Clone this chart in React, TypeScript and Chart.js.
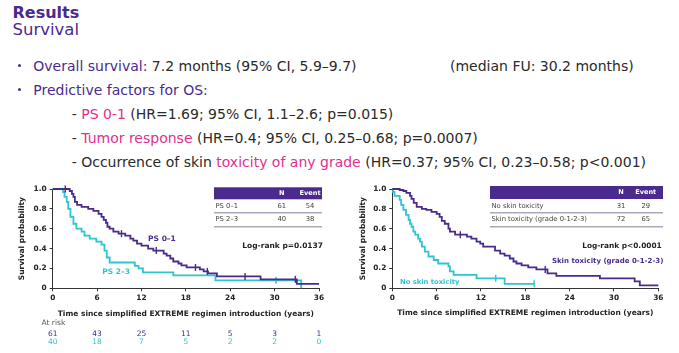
import React, { useEffect, useRef } from 'react';
import { Chart, registerables } from 'chart.js';
Chart.register(...registerables);

const PURPLE = '#4a2b8d';
const CYAN = '#2ec4d0';
const MAGENTA = '#e2308d';
const TEXT = '#2a2a2a';
const FONT = '"DejaVu Sans", Verdana, sans-serif';

const xTickValues = [0, 6, 12, 18, 24, 30, 36];

// PS 0-1 (left, purple)
const ps01Time = [0, 2.3, 2.6, 2.8, 3.0, 3.3, 3.9, 4.8, 5.5, 6.2, 6.6, 6.9, 7.2, 7.4, 7.7, 8.2, 8.9, 9.8, 10.5, 10.9, 11.4, 12.0, 12.9, 13.6, 15.0, 15.4, 15.9, 16.3, 17.0, 17.4, 18.1, 19.9, 20.4, 21.0, 22.2, 28.1, 33.0, 36];
const ps01Surv = [1.0, 0.98, 0.95, 0.92, 0.87, 0.84, 0.82, 0.80, 0.78, 0.75, 0.72, 0.69, 0.66, 0.62, 0.60, 0.57, 0.55, 0.53, 0.50, 0.48, 0.45, 0.43, 0.40, 0.38, 0.35, 0.33, 0.30, 0.27, 0.25, 0.23, 0.21, 0.19, 0.17, 0.15, 0.12, 0.09, 0.045, 0.045];
const ps01CensorTime = [1.7, 9.3, 14.0, 19.3, 20.9, 26.0, 32.8];
const ps01CensorSurv = [1.0, 0.55, 0.38, 0.21, 0.17, 0.12, 0.09];

// PS 2-3 (left, cyan)
const ps23Time = [0, 1.4, 1.6, 1.9, 2.1, 2.4, 2.8, 3.2, 3.9, 4.3, 5.0, 5.9, 6.6, 7.0, 7.3, 7.7, 11.1, 11.6, 12.2, 16.3, 22.0, 33.6];
const ps23Surv = [1.0, 0.97, 0.92, 0.87, 0.80, 0.72, 0.65, 0.60, 0.57, 0.53, 0.50, 0.47, 0.44, 0.38, 0.31, 0.26, 0.225, 0.20, 0.16, 0.13, 0.08, 0.0];
const ps23CensorTime = [30.2];
const ps23CensorSurv = [0.08];

// Skin toxicity grade 0-1-2-3 (right, purple)
const skinTime = [0, 1.0, 1.5, 1.9, 2.4, 2.6, 2.9, 3.3, 4.0, 4.6, 5.3, 6.0, 6.4, 6.7, 7.1, 7.6, 7.8, 8.5, 10.1, 10.7, 11.4, 11.9, 12.3, 13.9, 14.6, 15.2, 15.9, 16.4, 16.8, 17.5, 18.4, 19.5, 21.0, 22.2, 28.1, 32.8, 33.5, 36];
const skinSurv = [1.0, 0.99, 0.98, 0.96, 0.93, 0.90, 0.86, 0.82, 0.80, 0.79, 0.77, 0.75, 0.72, 0.68, 0.65, 0.60, 0.57, 0.54, 0.52, 0.50, 0.47, 0.45, 0.42, 0.38, 0.35, 0.33, 0.30, 0.27, 0.25, 0.23, 0.21, 0.19, 0.15, 0.125, 0.10, 0.07, 0.03, 0.03];
const skinCensorTime = [9.2, 20.7];
const skinCensorSurv = [0.54, 0.19];

// No skin toxicity (right, cyan)
const noSkinTime = [0, 0.1, 0.3, 1.0, 1.2, 1.5, 1.85, 2.2, 2.4, 2.6, 2.85, 3.1, 3.5, 3.75, 4.0, 4.4, 4.9, 5.6, 6.2, 7.6, 7.8, 8.3, 11.4, 15.2, 19.2];
const noSkinSurv = [1.0, 0.97, 0.93, 0.89, 0.84, 0.79, 0.74, 0.69, 0.65, 0.62, 0.57, 0.54, 0.50, 0.47, 0.42, 0.37, 0.32, 0.285, 0.25, 0.22, 0.17, 0.135, 0.10, 0.045, 0.045];
const noSkinCensorTime = [14.0, 19.2];
const noSkinCensorSurv = [0.10, 0.045];

const atRiskPs01 = [61, 43, 25, 11, 5, 3, 1];
const atRiskPs23 = [40, 18, 7, 5, 2, 2, 0];

const tableHeader = ['', 'N', 'Event'];
const psTableRows = [['PS 0–1', '61', '54'], ['PS 2–3', '40', '38']];
const skinTableRows = [['No skin toxicity', '31', '29'], ['Skin toxicity (grade 0-1-2-3)', '72', '65']];

const xTitle = 'Time since simplified EXTREME regimen introduction (years)';
const yTitle = 'Survival probability';

const f = (size: number, bold = false) => `${bold ? 'bold ' : ''}${size}px ${FONT}`;

type Curve = { time: number[]; surv: number[]; cTime: number[]; cSurv: number[]; color: string };
type Label = { text: string; x: number; y: number; color: string; size: number };

interface Spec {
  left: number; top: number; width: number; height: number;
  yWidth: number; padRight: number; padTop: number; padBottom: number;
  curves: Curve[];
  table: { x0: number; x1: number; y0: number; y1: number; colN: number; colE: number; rows: string[][]; rowY: number[]; lineY: number[] };
  logrank: { text: string; right: number; y: number; size: number };
  labels: Label[];
  titleY: number; yTitleX: number;
  atRisk?: { rows: number[][]; colors: string[]; rowY: number[]; headerY: number; headerX: number };
}

function KMChart({ spec }: { spec: Spec }) {
  const ref = useRef<HTMLCanvasElement>(null);
  useEffect(() => {
    const datasets: any[] = [];
    spec.curves.forEach((c) => {
      datasets.push({
        type: 'line',
        data: c.time.map((t, i) => ({ x: t, y: c.surv[i] })),
        borderColor: c.color,
        borderWidth: 1.8,
        pointRadius: 0,
        stepped: 'before',
        fill: false,
        clip: false,
      });
      datasets.push({
        type: 'scatter',
        data: c.cTime.map((t, i) => ({ x: t, y: c.cSurv[i] })),
        borderColor: c.color,
        backgroundColor: c.color,
        pointStyle: 'line',
        rotation: 90,
        pointRadius: 3.5,
        borderWidth: 1.4,
        showLine: false,
        clip: false,
      });
    });

    const anno = {
      id: 'anno',
      afterDraw(chart: any) {
        const ctx: CanvasRenderingContext2D = chart.ctx;
        const xs = chart.scales.x;
        const ys = chart.scales.y;
        const ca = chart.chartArea;
        ctx.save();
        ctx.fillStyle = '#222';
        ctx.textBaseline = 'middle';
        ctx.font = f(7.5, true);
        ctx.textAlign = 'center';
        ctx.fillText(xTitle, (ca.left + ca.right) / 2, spec.titleY);
        ctx.save();
        ctx.translate(spec.yTitleX, (ca.top + ca.bottom) / 2);
        ctx.rotate(-Math.PI / 2);
        ctx.fillText(yTitle, 0, 0);
        ctx.restore();
        const tb = spec.table;
        ctx.fillStyle = PURPLE;
        ctx.fillRect(tb.x0, tb.y0, tb.x1 - tb.x0, tb.y1 - tb.y0);
        ctx.fillStyle = '#fff';
        ctx.font = f(6.6, true);
        ctx.textAlign = 'center';
        const hy = (tb.y0 + tb.y1) / 2;
        ctx.fillText(tableHeader[1], tb.colN, hy);
        ctx.fillText(tableHeader[2], tb.colE, hy);
        ctx.font = f(6.8);
        ctx.fillStyle = '#444';
        tb.rows.forEach((r, i) => {
          ctx.textAlign = 'left';
          ctx.fillText(r[0], tb.x0 + 1.5, tb.rowY[i]);
          ctx.textAlign = 'center';
          ctx.fillText(r[1], tb.colN, tb.rowY[i]);
          ctx.fillText(r[2], tb.colE, tb.rowY[i]);
        });
        ctx.strokeStyle = '#a7abbd';
        ctx.lineWidth = 1.5;
        tb.lineY.forEach((y) => {
          ctx.beginPath();
          ctx.moveTo(tb.x0, y);
          ctx.lineTo(tb.x1, y);
          ctx.stroke();
        });
        ctx.fillStyle = '#222';
        ctx.font = f(spec.logrank.size, true);
        ctx.textAlign = 'right';
        ctx.fillText(spec.logrank.text, spec.logrank.right, spec.logrank.y);
        spec.labels.forEach((l) => {
          ctx.fillStyle = l.color;
          ctx.font = f(l.size, true);
          ctx.textAlign = 'left';
          ctx.fillText(l.text, xs.getPixelForValue(l.x), ys.getPixelForValue(l.y));
        });
        if (spec.atRisk) {
          const ar = spec.atRisk;
          ctx.font = f(7.5);
          ctx.fillStyle = '#555';
          ctx.textAlign = 'left';
          ctx.fillText('At risk', ar.headerX, ar.headerY);
          ctx.textAlign = 'center';
          ar.rows.forEach((row, ri) => {
            ctx.fillStyle = ar.colors[ri];
            row.forEach((v, i) => {
              ctx.fillText(String(v), xs.getPixelForValue(xTickValues[i]), ar.rowY[ri]);
            });
          });
        }
        ctx.restore();
      },
    };

    const chart = new Chart(ref.current as HTMLCanvasElement, {
      type: 'line',
      data: { datasets },
      options: {
        animation: false,
        responsive: false,
        events: [],
        layout: { padding: { left: 0, right: spec.padRight, top: spec.padTop, bottom: spec.padBottom } },
        plugins: { legend: { display: false }, tooltip: { enabled: false } },
        scales: {
          x: {
            type: 'linear',
            min: 0,
            max: 36,
            afterFit: (s: any) => { s.height = 14; },
            afterBuildTicks: (s: any) => { s.ticks = xTickValues.map((v) => ({ value: v })); },
            ticks: { font: { family: 'DejaVu Sans', size: 7.4, weight: 'bold' }, color: '#222', padding: 2, maxRotation: 0 },
            grid: { drawOnChartArea: false, drawTicks: true, tickLength: 3, color: '#333' },
            border: { display: true, color: '#333', width: 1 },
          },
          y: {
            type: 'linear',
            min: 0,
            max: 1,
            afterFit: (s: any) => { s.width = spec.yWidth; },
            ticks: {
              stepSize: 0.2,
              font: { family: 'DejaVu Sans', size: 7.4, weight: 'bold' },
              color: '#222',
              padding: 3,
              callback: (v: any) => (Math.abs(v) < 1e-9 ? '0' : Number(v).toFixed(1)),
            },
            grid: { drawOnChartArea: false, drawTicks: true, tickLength: 3, color: '#333' },
            border: { display: true, color: '#333', width: 1 },
          },
        },
      } as any,
      plugins: [anno],
    });
    return () => chart.destroy();
  }, []);
  return (
    <canvas
      ref={ref}
      width={spec.width}
      height={spec.height}
      style={{ position: 'absolute', left: spec.left, top: spec.top, width: spec.width, height: spec.height }}
    />
  );
}

const leftSpec: Spec = {
  left: 0, top: 178, width: 335, height: 175,
  yWidth: 52.7, padRight: 16, padTop: 11, padBottom: 50.7,
  curves: [
    { time: ps01Time, surv: ps01Surv, cTime: ps01CensorTime, cSurv: ps01CensorSurv, color: PURPLE },
    { time: ps23Time, surv: ps23Surv, cTime: ps23CensorTime, cSurv: ps23CensorSurv, color: CYAN },
  ],
  table: { x0: 214, x1: 322, y0: 9.3, y1: 21.3, colN: 281.7, colE: 310, rows: psTableRows, rowY: [28, 41.3], lineY: [34.7, 48.7] },
  logrank: { text: 'Log-rank p=0.0137', right: 323, y: 67.7, size: 7.5 },
  labels: [
    { text: 'PS 0–1', x: 12.9, y: 0.5, color: PURPLE, size: 7.5 },
    { text: 'PS 2–3', x: 6.7, y: 0.167, color: CYAN, size: 7.5 },
  ],
  titleY: 136, yTitleX: 22,
  atRisk: { rows: [atRiskPs01, atRiskPs23], colors: [PURPLE, CYAN], rowY: [156, 164.5], headerY: 145.3, headerX: 41.5 },
};

const rightSpec: Spec = {
  left: 340, top: 178, width: 335, height: 140,
  yWidth: 52.3, padRight: 16.7, padTop: 11, padBottom: 15.7,
  curves: [
    { time: skinTime, surv: skinSurv, cTime: skinCensorTime, cSurv: skinCensorSurv, color: PURPLE },
    { time: noSkinTime, surv: noSkinSurv, cTime: noSkinCensorTime, cSurv: noSkinCensorSurv, color: CYAN },
  ],
  table: { x0: 150, x1: 323, y0: 8, y1: 21, colN: 281, colE: 305.7, rows: skinTableRows, rowY: [28.7, 41], lineY: [34.7, 48.7] },
  logrank: { text: 'Log-rank p<0.0001', right: 321.7, y: 67.7, size: 7.4 },
  labels: [
    { text: 'Skin toxicity (grade 0-1-2-3)', x: 21.6, y: 0.27, color: PURPLE, size: 7 },
    { text: 'No skin toxicity', x: 1.04, y: 0.06, color: CYAN, size: 6.8 },
  ],
  titleY: 134.7, yTitleX: 23.3,
};

const line = (top: number, left: number, fs: number, children: React.ReactNode, extra: React.CSSProperties = {}) => (
  <div style={{ position: 'absolute', top, left, fontSize: fs, lineHeight: 1, whiteSpace: 'nowrap', color: TEXT, ...extra }}>{children}</div>
);

const dot = (top: number) => (
  <div style={{ position: 'absolute', left: 18, top, width: 3, height: 3, borderRadius: 2, background: PURPLE }} />
);

export default function App() {
  return (
    <div style={{ position: 'absolute', left: 0, top: 0, width: 679, height: 353, background: '#fff', overflow: 'hidden', fontFamily: FONT }}>
      {line(4.5, 12.5, 16, 'Results', { color: '#4a2a8c', fontWeight: 'bold' })}
      {line(22, 12.5, 16.5, 'Survival', { color: '#4a2a8c' })}
      {dot(63.5)}
      {line(58.5, 33.3, 14, <><span style={{ color: PURPLE }}>Overall survival:</span> 7.2 months (95% CI, 5.9–9.7)</>)}
      {line(58.5, 450, 14, '(median FU: 30.2 months)')}
      {dot(87.5)}
      {line(82.5, 33.3, 14, <span style={{ color: PURPLE }}>Predictive factors for OS:</span>)}
      {line(107.2, 71.7, 14, <>- <span style={{ color: MAGENTA }}>PS 0-1</span> (HR=1.69; 95% CI, 1.1–2.6; p=0.015)</>)}
      {line(130.5, 71.7, 14, <>- <span style={{ color: MAGENTA }}>Tumor response</span> (HR=0.4; 95% CI, 0.25–0.68; p=0.0007)</>)}
      {line(154.9, 71.7, 14, <>- Occurrence of skin <span style={{ color: MAGENTA }}>toxicity of any grade</span> (HR=0.37; 95% CI, 0.23–0.58; p&lt;0.001)</>)}
      <KMChart spec={leftSpec} />
      <KMChart spec={rightSpec} />
    </div>
  );
}
